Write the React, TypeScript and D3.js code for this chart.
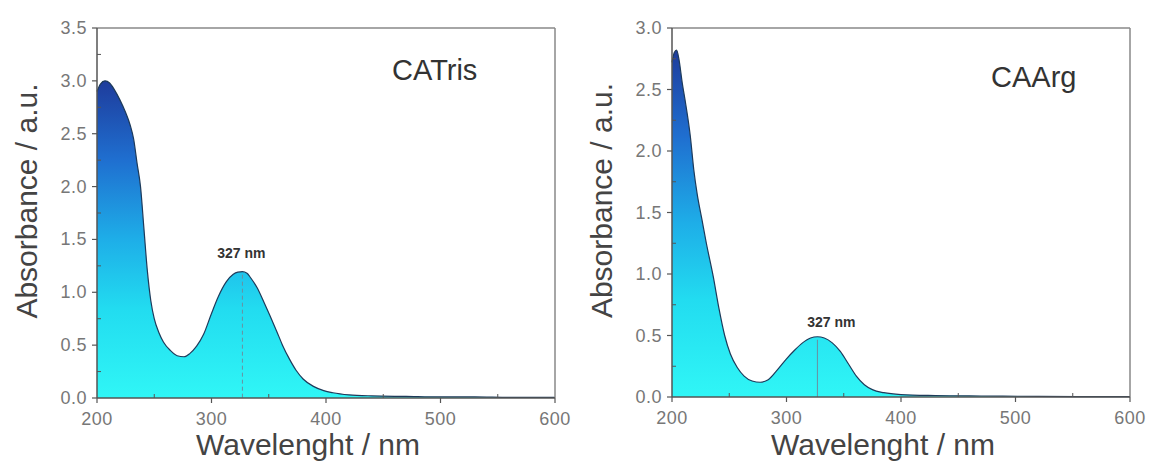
import React from 'react';
import * as d3 from 'd3';

// CATris spectrum (wavelength nm, absorbance)
const wlTris = [200, 203, 207, 211, 215, 220, 225, 229, 232, 235, 238, 241, 244, 247, 250, 254, 258, 264, 270, 276, 281, 287, 293, 300, 306, 313, 319, 323, 327, 331, 334, 340, 346, 351, 357, 362, 368, 374, 380, 389, 398, 406, 420, 440, 470, 500, 530, 560, 600];
const absTris = [2.9, 2.97, 3.0, 2.98, 2.92, 2.82, 2.7, 2.58, 2.45, 2.22, 2.0, 1.6, 1.2, 0.92, 0.75, 0.62, 0.53, 0.45, 0.4, 0.39, 0.42, 0.49, 0.6, 0.8, 0.96, 1.1, 1.17, 1.19, 1.195, 1.18, 1.14, 1.04, 0.9, 0.78, 0.63, 0.5, 0.37, 0.26, 0.18, 0.11, 0.07, 0.05, 0.03, 0.02, 0.015, 0.01, 0.01, 0.005, 0.005];

// CAArg spectrum
const wlArg = [200, 202, 204, 206, 209, 212, 216, 219, 222, 226, 230, 236, 241, 246, 251, 257, 263, 270, 277, 284, 292, 300, 307, 314, 321, 327, 333, 340, 347, 354, 361, 368, 375, 385, 400, 430, 470, 520, 600];
const absArg = [2.72, 2.8, 2.82, 2.75, 2.55, 2.38, 2.12, 1.85, 1.65, 1.45, 1.25, 0.98, 0.72, 0.5, 0.35, 0.24, 0.17, 0.13, 0.12, 0.14, 0.22, 0.31, 0.38, 0.44, 0.48, 0.49, 0.48, 0.44, 0.37, 0.27, 0.17, 0.1, 0.06, 0.035, 0.02, 0.012, 0.008, 0.005, 0.003];

const xTicks = [200, 300, 400, 500, 600];
const yTicksTris = [0, 0.5, 1.0, 1.5, 2.0, 2.5, 3.0, 3.5];
const yTicksArg = [0, 0.5, 1.0, 1.5, 2.0, 2.5, 3.0];
const peakWl = 327;

type PanelProps = {
  id: string;
  wl: number[];
  abs: number[];
  yTicks: number[];
  x0: number;
  x1: number;
  y0: number;
  y1: number;
  name: string;
  nameX: number;
  nameY: number;
  annDx: number;
  annY: number;
  dashed: boolean;
};

const Panel = (p: PanelProps) => {
  const yMax = p.yTicks[p.yTicks.length - 1];
  const x = d3.scaleLinear().domain([200, 600]).range([p.x0, p.x1]);
  const y = d3.scaleLinear().domain([0, yMax]).range([p.y1, p.y0]);
  const pts = p.wl.map((w, i) => [w, p.abs[i]] as [number, number]);

  const area = d3.area<[number, number]>()
    .x((d) => x(d[0]))
    .y0(y(0))
    .y1((d) => y(d[1]))
    .curve(d3.curveMonotoneX);
  const line = d3.line<[number, number]>()
    .x((d) => x(d[0]))
    .y((d) => y(d[1]))
    .curve(d3.curveMonotoneX);

  const peakVal = p.abs[p.wl.indexOf(peakWl)];
  const top = d3.max(p.abs) as number;

  const minorY = d3.range(0.25, yMax, 0.5);
  const minorX = [250, 350, 450, 550];
  const axisCol = '#555';
  const tickFont = { fontFamily: 'Arial, Liberation Sans, sans-serif', fontSize: 18, fill: '#777', letterSpacing: 0.5 };

  return (
    <g>
      <defs>
        <linearGradient id={p.id} gradientUnits="userSpaceOnUse" x1={0} x2={0} y1={y(top)} y2={y(0)}>
          <stop offset="0" stopColor="#1e3c9c" />
          <stop offset="0.25" stopColor="#1f6fd0" />
          <stop offset="0.5" stopColor="#1eaee8" />
          <stop offset="0.72" stopColor="#22dcf0" />
          <stop offset="1" stopColor="#30f6f6" />
        </linearGradient>
      </defs>
      <path d={area(pts) || ''} fill={`url(#${p.id})`} />
      <path d={line(pts) || ''} fill="none" stroke="#1d3a5a" strokeWidth={1.2} />
      <line x1={x(peakWl)} x2={x(peakWl)} y1={y(peakVal) + 3} y2={y(0)}
        stroke="#6a8fa0" strokeWidth={1} strokeDasharray={p.dashed ? '4,3' : undefined} />
      <text x={x(peakWl) + p.annDx} y={p.annY} textAnchor="middle"
        style={{ fontFamily: 'Arial, Liberation Sans, sans-serif', fontSize: 14, fontWeight: 'bold', fill: '#333' }}>
        327 nm
      </text>

      {/* frame */}
      <line x1={p.x0} x2={p.x1} y1={p.y0} y2={p.y0} stroke="#888" strokeWidth={1.5} />
      <line x1={p.x1} x2={p.x1} y1={p.y0} y2={p.y1} stroke="#888" strokeWidth={1.5} />
      <line x1={p.x0} x2={p.x1} y1={p.y1} y2={p.y1} stroke={axisCol} strokeWidth={1.5} />
      <line x1={p.x0} x2={p.x0} y1={p.y0} y2={p.y1} stroke={axisCol} strokeWidth={1.5} />

      {p.yTicks.map((t) => (
        <g key={'y' + t}>
          <line x1={p.x0 - 5} x2={p.x0} y1={y(t)} y2={y(t)} stroke={axisCol} strokeWidth={1.2} />
          <text x={p.x0 - 10} y={y(t) + 6} textAnchor="end" style={tickFont}>{t.toFixed(1)}</text>
        </g>
      ))}
      {minorY.map((t) => (
        <line key={'my' + t} x1={p.x0} x2={p.x0 + 4} y1={y(t)} y2={y(t)} stroke={axisCol} strokeWidth={1} />
      ))}
      {xTicks.map((t) => (
        <g key={'x' + t}>
          <line x1={x(t)} x2={x(t)} y1={p.y1} y2={p.y1 + 5} stroke={axisCol} strokeWidth={1.2} />
          <text x={x(t)} y={p.y1 + 27} textAnchor="middle" style={tickFont}>{t}</text>
        </g>
      ))}
      {minorX.map((t) => (
        <line key={'mx' + t} x1={x(t)} x2={x(t)} y1={p.y1} y2={p.y1 - 4} stroke={axisCol} strokeWidth={1} />
      ))}

      <text x={p.nameX} y={p.nameY}
        style={{ fontFamily: 'Arial, Liberation Sans, sans-serif', fontSize: 29, fill: '#333' }}>
        {p.name}
      </text>
      <text x={(p.x0 + p.x1) / 2 - 18} y={455} textAnchor="middle"
        style={{ fontFamily: 'Arial, Liberation Sans, sans-serif', fontSize: 30, fill: '#444' }}>
        Wavelenght / nm
      </text>
      <text transform={`translate(${p.x0 - 60},${(p.y0 + p.y1) / 2 - 12}) rotate(-90)`} textAnchor="middle"
        style={{ fontFamily: 'Arial, Liberation Sans, sans-serif', fontSize: 30, fill: '#444' }}>
        Absorbance / a.u.
      </text>
    </g>
  );
};

const App = () => {
  return (
    <svg width={1152} height={464} style={{ position: 'absolute', left: 0, top: 0, background: '#fff' }}>
      <Panel id="gTris" wl={wlTris} abs={absTris} yTicks={yTicksTris}
        x0={97} x1={555} y0={28} y1={398} name="CATris" nameX={392} nameY={80}
        annDx={-1} annY={258} dashed={true} />
      <Panel id="gArg" wl={wlArg} abs={absArg} yTicks={yTicksArg}
        x0={672} x1={1130} y0={28} y1={397} name="CAArg" nameX={991} nameY={87}
        annDx={14} annY={327} dashed={false} />
    </svg>
  );
};

export default App;
